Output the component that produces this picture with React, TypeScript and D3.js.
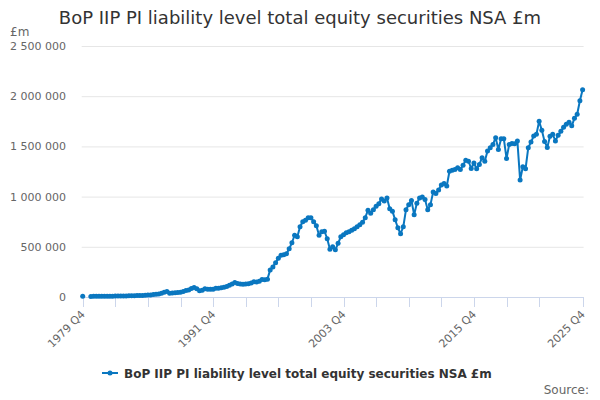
import React, { useEffect, useRef } from 'react';
import * as d3 from 'd3';

const title = 'BoP IIP PI liability level total equity securities NSA £m';
const unitLabel = '£m';
const sourceLabel = 'Source:';

const startYear = 1979; // first point is 1979 Q4
const quarters: string[] = d3.range(185).map(i => {
  const q = (3 + i) % 4;
  const y = startYear + Math.floor((3 + i) / 4);
  return `${y} Q${q + 1}`;
});

// £m, one value per quarter (null = no data)
const values: (number | null)[] = [
  8000, null, null, 6000, 6500, 7000, 7000, 7500, 7500, 8000,
  8000, 8500, 9000, 9500, 10000, 10500, 11000, 12000, 12000, 13000,
  14000, 15000, 16000, 17000, 19000, 21000, 25000, 27000, 30000, 37000,
  48000, 55000, 38000, 40000, 43000, 45000, 47000, 55000, 65000, 70000,
  85000, 95000, 82000, 63000, 68000, 83000, 78000, 77000, 78000, 86000,
  88000, 93000, 98000, 105000, 118000, 130000, 145000, 135000, 130000, 128000,
  130000, 133000, 140000, 153000, 150000, 158000, 175000, 172000, 178000, 270000,
  300000, 340000, 385000, 415000, 420000, 430000, 480000, 540000, 615000, 600000,
  700000, 750000, 765000, 790000, 790000, 750000, 710000, 615000, 650000, 655000,
  580000, 475000, 500000, 470000, 535000, 600000, 620000, 640000, 650000, 665000,
  680000, 700000, 720000, 745000, 790000, 865000, 835000, 870000, 905000, 930000,
  975000, 955000, 985000, 880000, 855000, 770000, 690000, 630000, 700000, 870000,
  920000, 960000, 820000, 935000, 985000, 997000, 970000, 870000, 920000, 1045000,
  1030000, 1065000, 1115000, 1130000, 1105000, 1253000, 1263000, 1270000, 1287000, 1270000,
  1313000, 1363000, 1353000, 1280000, 1335000, 1277000, 1320000, 1387000, 1353000, 1455000,
  1487000, 1520000, 1587000, 1470000, 1577000, 1577000, 1380000, 1520000, 1530000, 1527000,
  1553000, 1165000, 1297000, 1277000, 1487000, 1543000, 1603000, 1620000, 1750000, 1660000,
  1550000, 1490000, 1600000, 1620000, 1555000, 1610000, 1650000, 1690000, 1720000, 1740000,
  1705000, 1780000, 1820000, 1955000, 2065000,
];

const yTicks = [0, 500000, 1000000, 1500000, 2000000, 2500000];
const xTickLabels = ['1979 Q4', '1991 Q4', '2003 Q4', '2015 Q4', '2025 Q4'];

const color = '#0a77c0';
const font = '"DejaVu Sans", Verdana, sans-serif';

const App: React.FC = () => {
  const ref = useRef<SVGSVGElement>(null);

  useEffect(() => {
    if (!ref.current) return;
    const svg = d3.select(ref.current);
    svg.selectAll('*').remove();

    const width = 600;
    const height = 400;
    const left = 82.7;
    const right = 582.6;
    const top = 46;
    const bottom = 297;

    const x = d3.scalePoint<string>().domain(quarters).range([left, right]);
    const y = d3.scaleLinear().domain([0, 2500000]).range([bottom, top]);
    const fmt = (v: number) => d3.format(',')(v).replace(/,/g, ' ');

    svg.attr('width', width).attr('height', height).style('font-family', font);

    svg.append('text')
      .attr('x', width / 2)
      .attr('y', 24)
      .attr('text-anchor', 'middle')
      .attr('font-size', 18)
      .attr('fill', '#333')
      .text(title);

    svg.append('text')
      .attr('x', 10)
      .attr('y', 36)
      .attr('font-size', 12)
      .attr('fill', '#666')
      .text(unitLabel);

    // gridlines + y labels
    const grid = svg.append('g');
    grid.selectAll('line')
      .data(yTicks.filter(d => d > 0))
      .enter().append('line')
        .attr('x1', left - 1)
        .attr('x2', right + 1)
        .attr('y1', d => y(d) + 0.5)
        .attr('y2', d => y(d) + 0.5)
        .attr('stroke', '#e6e6e6');
    grid.selectAll('text')
      .data(yTicks)
      .enter().append('text')
        .attr('x', 66)
        .attr('y', d => y(d) + 4)
        .attr('text-anchor', 'end')
        .attr('font-size', 11)
        .attr('fill', '#666')
        .text(d => fmt(d));

    // x axis
    const tickIdx = d3.range(0, 169, 12).concat([184]);
    svg.append('line')
      .attr('x1', left - 1)
      .attr('x2', right + 1)
      .attr('y1', bottom + 0.5)
      .attr('y2', bottom + 0.5)
      .attr('stroke', '#ccd6eb');
    svg.append('g')
      .selectAll('line')
      .data(tickIdx)
      .enter().append('line')
        .attr('x1', d => Math.round(x(quarters[d])!) + 0.5)
        .attr('x2', d => Math.round(x(quarters[d])!) + 0.5)
        .attr('y1', bottom)
        .attr('y2', bottom + 10)
        .attr('stroke', '#ccd6eb');
    svg.append('g')
      .selectAll('text')
      .data(xTickLabels)
      .enter().append('text')
        .attr('transform', d => `translate(${x(d)! + 3},${bottom + 18}) rotate(-45)`)
        .attr('text-anchor', 'end')
        .attr('font-size', 11)
        .attr('fill', '#666')
        .text(d => d);

    // series
    const pts = quarters.map((q, i) => ({ q, v: values[i] }));
    const line = d3.line<{ q: string; v: number | null }>()
      .defined(d => d.v !== null)
      .x(d => x(d.q)!)
      .y(d => y(d.v as number));
    svg.append('path')
      .datum(pts)
      .attr('fill', 'none')
      .attr('stroke', color)
      .attr('stroke-width', 2)
      .attr('stroke-linejoin', 'round')
      .attr('d', line);
    svg.append('g')
      .selectAll('circle')
      .data(pts.filter(d => d.v !== null))
      .enter().append('circle')
        .attr('cx', d => x(d.q)!)
        .attr('cy', d => y(d.v as number))
        .attr('r', 2.5)
        .attr('fill', color);

    // legend
    const lg = svg.append('g');
    lg.append('line')
      .attr('x1', 102).attr('x2', 118)
      .attr('y1', 373).attr('y2', 373)
      .attr('stroke', color).attr('stroke-width', 2);
    lg.append('circle')
      .attr('cx', 110).attr('cy', 373).attr('r', 2.5)
      .attr('fill', color);
    lg.append('text')
      .attr('x', 124)
      .attr('y', 377.5)
      .attr('font-size', 12)
      .attr('font-weight', 'bold')
      .attr('fill', '#333')
      .text(title);

    svg.append('text')
      .attr('x', 589)
      .attr('y', 394)
      .attr('text-anchor', 'end')
      .attr('font-size', 12)
      .attr('fill', '#666')
      .text(sourceLabel);
  }, []);

  return (
    <div style={{ position: 'absolute', left: 0, top: 0 }}>
      <svg ref={ref} width={600} height={400} style={{ display: 'block' }} />
    </div>
  );
};

export default App;
